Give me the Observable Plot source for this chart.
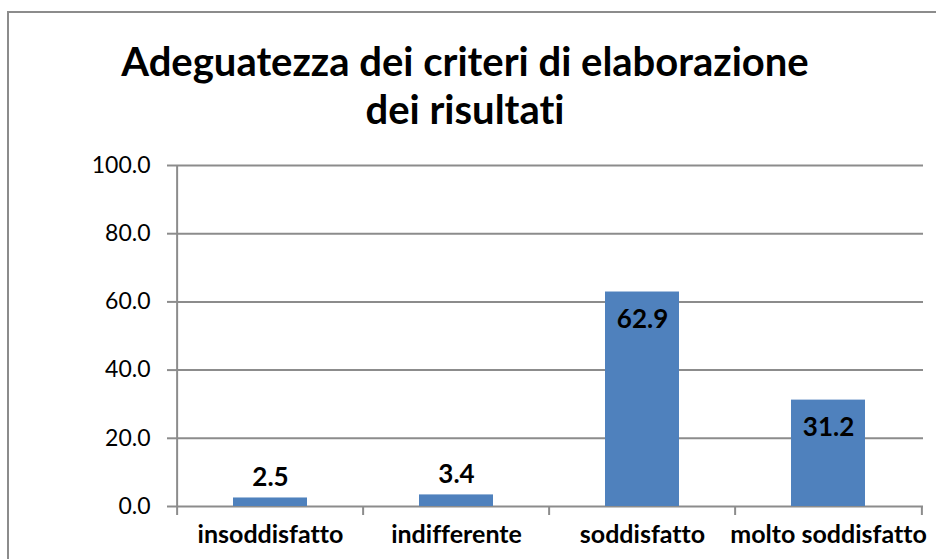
<!DOCTYPE html>
<html><head><meta charset="utf-8">
<script src="https://cdn.jsdelivr.net/npm/d3@7"></script>
<script src="https://cdn.jsdelivr.net/npm/@observablehq/plot@0.6"></script>
<style>
html,body{margin:0;padding:0;background:#fff;overflow:hidden;}
#wrap{position:relative;width:936px;height:559px;overflow:hidden;font-family:Lato,sans-serif;font-variant-ligatures:none;}
#border{position:absolute;left:7px;top:11px;width:1000px;height:700px;border-left:2px solid #8c8c8c;border-top:2px solid #8c8c8c;}
#title{position:absolute;left:0;width:930px;top:37px;text-align:center;font-weight:bold;font-size:40px;line-height:48px;color:#000;font-variant-ligatures:none;}
#chart{position:absolute;left:0;top:0;}
#chart svg text{font-variant-ligatures:none;}
</style></head><body>
<div id="wrap"><div id="border"></div><div id="title"></div><div id="chart"></div></div>
<script>
const titleLines = ["Adeguatezza dei criteri di elaborazione", "dei risultati"];
const categories = ["insoddisfatto", "indifferente", "soddisfatto", "molto soddisfatto"];
const values = [2.5, 3.4, 62.9, 31.2];
const yTicks = [0, 20, 40, 60, 80, 100];

document.getElementById("title").innerHTML = titleLines.join("<br>");

const W = 936, H = 559, mL = 176, mR = 13, mT = 165, mB = 53;
const step = (W - mL - mR) / categories.length;
const data = categories.map((c, i) => ({cat: c, v: values[i]}));
const gray = "#8c8c8c";

const chart = Plot.plot({
  width: W, height: H,
  marginLeft: mL, marginRight: mR, marginTop: mT, marginBottom: mB,
  style: {background: "transparent", fontFamily: "Lato, sans-serif", color: "#000"},
  x: {domain: categories, paddingInner: 0.6, paddingOuter: 0.3, axis: null},
  y: {domain: [0, 100], axis: null},
  marks: [
    Plot.gridY(yTicks, {stroke: gray, strokeOpacity: 1, strokeWidth: 2}),
    Plot.axisY(yTicks, {label: null, tickSize: 9, tickPadding: 17, tickFormat: d => d.toFixed(1), fontSize: 23, stroke: gray, strokeWidth: 2, fill: "#000"}),
    Plot.ruleX([categories[0]], {dx: -step / 2, y1: 0, y2: 100, stroke: gray, strokeWidth: 2}),
    Plot.axisX(categories, {label: null, dx: -step / 2, tickSize: 9, tickFormat: () => "", stroke: gray, strokeWidth: 2}),
    Plot.axisX([categories[categories.length - 1]], {label: null, dx: step / 2, tickSize: 9, tickFormat: () => "", stroke: gray, strokeWidth: 2}),
    Plot.axisX(categories, {label: null, tickSize: 0, tickPadding: 19, fontSize: 25, fontWeight: "bold", fill: "#000"}),
    Plot.barY(data, {x: "cat", y: "v", fill: "#4F81BD"}),
    Plot.text(data, {filter: d => d.v < 10, x: "cat", y: "v", text: d => d.v.toFixed(1), dy: -20, fontSize: 26, fontWeight: "bold", fill: "#000"}),
    Plot.text(data, {filter: d => d.v >= 10, x: "cat", y: "v", text: d => d.v.toFixed(1), dy: 28, fontSize: 26, fontWeight: "bold", fill: "#000"})
  ]
});
document.getElementById("chart").appendChild(chart);
</script>
</body></html>
